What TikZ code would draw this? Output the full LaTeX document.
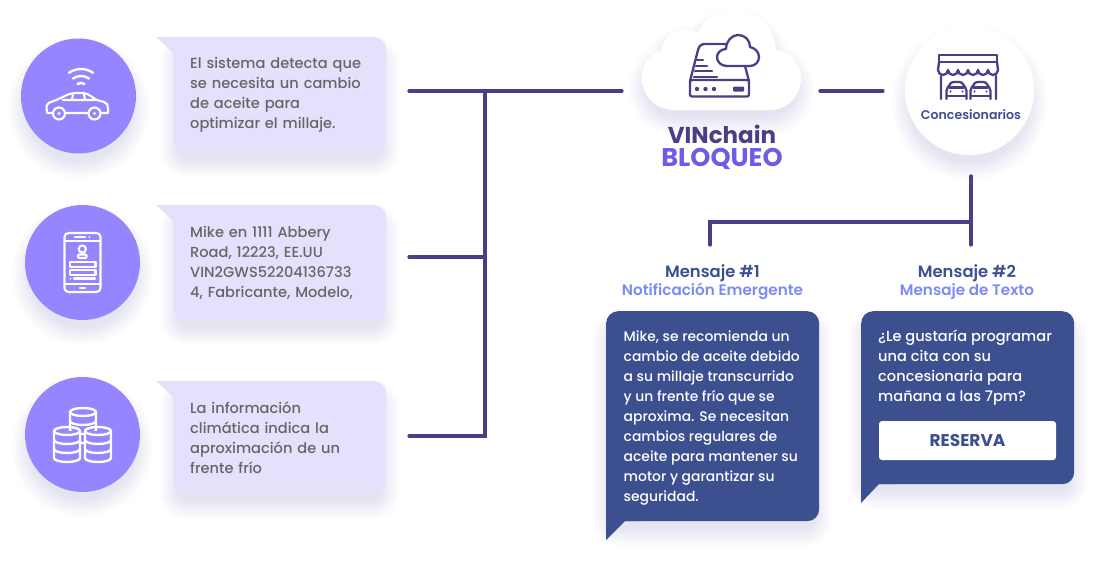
\documentclass[tikz,border=0pt]{standalone}
\usepackage{fontspec}
\setmainfont{Poppins}[UprightFont={* Medium}, BoldFont={* SemiBold}]
\newfontfamily\heavyfont{Poppins}[UprightFont={* Bold}]
\usetikzlibrary{positioning, calc}
\definecolor{vinPurple}{HTML}{9585FF}
\definecolor{vinLilac}{HTML}{E6E0FD}
\definecolor{vinNavy}{HTML}{3C4F8F}
\definecolor{vinInk}{HTML}{4A3F87}
\definecolor{vinViolet}{HTML}{6C5CE7}
\definecolor{vinSky}{HTML}{7C8CF0}
\definecolor{vinGrey}{HTML}{666666}
\newcommand{\softshade}[1]{\foreach \w in {3,6,...,39}{\begin{scope}[transparency group, opacity=.008, shift={(0,12)}]\filldraw[vinInk, line width=\w pt, line join=round] #1;\end{scope}}}
\tikzset{
	linkline/.style={line width=3.2pt, vinInk, line cap=round},
	whiteicon/.style={white, line width=2.1pt, line cap=round, line join=round},
	inkicon/.style={vinInk, line width=2.3pt, line cap=round, line join=round},
	bubblebase/.style={anchor=north west, inner xsep=17pt, inner ysep=0pt, text width=179pt, minimum width=213pt, rounded corners=12pt, align=left},
	lightbubble/.style={bubblebase, fill=vinLilac, text=vinGrey, font=\fontsize{14.6}{20}\selectfont},
	darkbubble/.style={bubblebase, fill=vinNavy},
	darktext/.style={anchor=north west, inner sep=0pt, align=left, text=white},
	iconcircle/.style={circle, fill=vinPurple, minimum size=115pt, inner sep=0pt},
	msgtitle/.style={text=vinNavy, inner sep=0pt, font=\fontsize{16.4}{18}\selectfont\bfseries},
	msgsub/.style={text=vinSky, inner sep=0pt, font=\fontsize{15.2}{16}\selectfont\bfseries}
}
\begin{document}
\begin{tikzpicture}[x=1pt, y=-1pt]
	\useasboundingbox (0,0) rectangle (1095,565);
	\fill[white] (0,0) rectangle (1095,565);

	% shadows
	\softshade{(78.5,96) circle (51.5)}
	\softshade{(82.5,262.5) circle (51.5)}
	\softshade{(82.5,434.5) circle (51.5)}
	\softshade{(969.5,90.5) circle (58.5)}
	\softshade{[rounded corners=8pt] (179,43) rectangle (380,146)}
	\softshade{[rounded corners=8pt] (179,211) rectangle (380,314)}
	\softshade{[rounded corners=8pt] (179,387) rectangle (380,488)}
	\softshade{[rounded corners=8pt] (612,317) rectangle (813,515)}
	\softshade{[rounded corners=8pt] (867,317) rectangle (1068,478)}

	% left column
	\node [iconcircle] (circleCar) at (78.5,96) {};
	\node [iconcircle] (circlePhone) at (82.5,262.5) {};
	\node [iconcircle] (circleCoins) at (82.5,434.5) {};

	\node [lightbubble, minimum height=115pt] (bubbleCar) at (173,37) {El sistema detecta que\\se necesita un cambio\\de aceite para\\optimizar el millaje.};
	\node [lightbubble, minimum height=115pt] (bubblePhone) at (173,205) {Mike en 1111 Abbery\\Road, 12223, EE.UU\\VIN2GWS52204136733\\4, Fabricante, Modelo,};
	\node [lightbubble, minimum height=113pt] (bubbleCoins) at (173,381) {La información\\climática indica la\\aproximación de un\\frente frío};
	\fill[vinLilac] (156,37) -- (190,37) -- (190,56) -- (173,56) -- (173,53) -- cycle;
	\fill[vinLilac] (156,205) -- (190,205) -- (190,224) -- (173,224) -- (173,221) -- cycle;
	\fill[vinLilac] (156,381) -- (190,381) -- (190,400) -- (173,400) -- (173,397) -- cycle;

	% car
	\draw[whiteicon] (52.5,113) -- (47,113) -- (46.5,107) .. controls (47,103) and (50,102) .. (54,101) -- (63,97) .. controls (68,94) and (72,93) .. (77,93) -- (84,93) .. controls (89,94) and (93,98) .. (97,100) -- (104,102) .. controls (107,103) and (108,105) .. (108,108) -- (108,113) -- (101,113);
	\draw[whiteicon] (65.5,113) -- (88,113) (63,100) -- (96,100) (73,94) -- (72,100) (84,94) -- (85,100);
	\draw[whiteicon] (59,113.5) circle (6) (94.5,113.5) circle (6);
	\fill[white] (59,113.5) circle (1.6) (94.5,113.5) circle (1.6);
	\draw[whiteicon, line width=2.4pt] (81,90) ++(235:21) arc [start angle=235, end angle=305, radius=21];
	\draw[whiteicon, line width=2.4pt] (81,90) ++(235:14) arc [start angle=235, end angle=305, radius=14];
	\draw[whiteicon, line width=2.4pt] (81,90) ++(240:7) arc [start angle=240, end angle=300, radius=7];

	% phone
	\draw[whiteicon, rounded corners=4pt] (64.5,233) rectangle (100.5,292);
	\draw[whiteicon] (64.5,241) -- (100.5,241) (64.5,284) -- (100.5,284) (75,237) -- (85,237) (80,288) -- (85,288);
	\fill[white] (89.5,237) circle (1);
	\draw[whiteicon] (82.3,249) circle (3.6);
	\draw[whiteicon, rounded corners=1pt] (78,258) -- (78,254.5) -- (86.6,254.5) -- (86.6,258) -- cycle;
	\draw[whiteicon] (70,262) rectangle (95.5,267) (70,270) rectangle (95.5,275);
	\draw[whiteicon] (74,278.5) -- (95,278.5);
	\fill[white] (70.5,278.5) circle (1);

	% coins
	\foreach \cx/\cy/\rows in {83/412/3, 67/431/3, 98/431/3}{
		\fill[vinPurple] (\cx-13,\cy) -- (\cx-13,{\cy+9*\rows}) arc [start angle=180, end angle=0, x radius=13, y radius=4] -- (\cx+13,\cy) -- cycle;
		\draw[whiteicon, line width=2.4pt] (\cx,\cy) ellipse [x radius=13, y radius=4];
		\draw[whiteicon, line width=2.4pt] (\cx-13,\cy) -- (\cx-13,{\cy+9*\rows}) arc [start angle=180, end angle=0, x radius=13, y radius=4] -- (\cx+13,\cy);
		\foreach \band in {1,2}
			\draw[whiteicon, line width=2.4pt] (\cx-13,{\cy+9*\band}) arc [start angle=180, end angle=0, x radius=13, y radius=4];
	}

	% cloud
	\softshade{[shift={(721,60)}, xscale=.925, yscale=.88, shift={(-721,-60)}] (674,110) .. controls (656,110) and (642,96) .. (642,78)
		.. controls (642,64) and (650,54) .. (662,50)
		.. controls (663,38) and (672,30) .. (683,30)
		.. controls (689,30) and (694,31) .. (698,33)
		.. controls (705,18) and (719,10) .. (735,10)
		.. controls (757,10) and (774,27) .. (776,50)
		.. controls (790,53) and (801,64) .. (801,78)
		.. controls (801,96) and (788,110) .. (770,110) -- cycle}
	\fill[white] (674,110) .. controls (656,110) and (642,96) .. (642,78)
		.. controls (642,64) and (650,54) .. (662,50)
		.. controls (663,38) and (672,30) .. (683,30)
		.. controls (689,30) and (694,31) .. (698,33)
		.. controls (705,18) and (719,10) .. (735,10)
		.. controls (757,10) and (774,27) .. (776,50)
		.. controls (790,53) and (801,64) .. (801,78)
		.. controls (801,96) and (788,110) .. (770,110) -- cycle;
	\draw[inkicon] (690,81) -- (698,50) .. controls (699,46) and (701,44) .. (705,44) -- (728,44);
	\draw[inkicon] (745,66) -- (749,81);
	\draw[inkicon, rounded corners=2pt] (690,80) rectangle (749,96.5);
	\draw[inkicon] (697,60) -- (703,60) (696,65.7) -- (707,65.7) (695,71) -- (712,71) (694,76.7) -- (717,76.7);
	\fill[vinInk] (697,89) circle (2.2) (705.5,89) circle (2.2) (714,89) circle (2.2);
	\fill[vinInk, rounded corners=1pt] (733,86.5) rectangle (744,91.5);
	\filldraw[inkicon, fill=white] (727,66) .. controls (721,66) and (717,62) .. (717,57) .. controls (717,53) and (721,49) .. (726,49) .. controls (726,41) and (732,35) .. (738,35) .. controls (745,35) and (750,40) .. (750,47) .. controls (755,48) and (759,52) .. (759,57) .. controls (759,62) and (755,66) .. (750,66) -- cycle;
	\node [text=vinInk, inner sep=0pt, font=\heavyfont\fontsize{23}{24}\selectfont] (vinLabel) at (722,134) {VINchain};
	\node [text=vinViolet, inner sep=0pt, font=\heavyfont\fontsize{25.6}{26}\selectfont] (lockLabel) at (722,159) {BLOQUEO};

	% dealers
	\node [circle, fill=white, minimum size=129pt, inner sep=0pt] (circleDealer) at (969.5,90.5) {};
	\draw[inkicon] (939,62) -- (939,55) -- (997,55) -- (997,62) -- cycle;
	\draw[inkicon] (939,62) -- (938,70) (997,62) -- (998,70) (941,76) -- (941,99) (996,76) -- (996,99);
	\foreach \i in {0,...,5}
		\draw[inkicon] (938+10*\i,70) arc [start angle=180, end angle=0, radius=5];
	\foreach \cx in {956.5,980.5}{
		\draw[inkicon] (\cx-10,99) -- (\cx-10,91) .. controls (\cx-10,88) and (\cx-8,87) .. (\cx-7,85) .. controls (\cx-6,83) and (\cx-5,82) .. (\cx-3,82) -- (\cx+3,82) .. controls (\cx+5,82) and (\cx+6,83) .. (\cx+7,85) .. controls (\cx+8,87) and (\cx+10,88) .. (\cx+10,91) -- (\cx+10,99);
		\draw[inkicon] (\cx-10,96) -- (\cx+10,96) (\cx-7,87.5) -- (\cx+7,87.5);
		\fill[vinInk] (\cx-6,91.5) circle (1.2) (\cx+6,91.5) circle (1.2);
	}
	\node [text=vinNavy, font=\fontsize{12.6}{14}\selectfont\bfseries] (dealerLabel) at (971,115) {Concesionarios};

	% messages
	\node [msgtitle] (titleA) at (712.5,273) {Mensaje \#1};
	\node [msgsub] (subA) at (712.5,291.5) {Notificación Emergente};
	\node [msgtitle] (titleB) at (967,273) {Mensaje \#2};
	\node [msgsub] (subB) at (967,291.5) {Mensaje de Texto};

	\node [darkbubble, minimum height=210pt] (bubbleMsgA) at (606,311) {};
	\node [darkbubble, minimum height=173pt] (bubbleMsgB) at (861,311) {};
	\fill[vinNavy] (606,540) -- (606,500) -- (640,500) -- (640,521) -- (625,521) -- cycle;
	\fill[vinNavy] (861,503) -- (861,463) -- (895,463) -- (895,484) -- (879,484) -- cycle;
	\node [darktext, font=\fontsize{13.9}{20}\selectfont] (textMsgA) at (623.5,331) {Mike, se recomienda un\\cambio de aceite debido\\a su millaje transcurrido\\y un frente frío que se\\aproxima. Se necesitan\\cambios regulares de\\aceite para mantener su\\motor y garantizar su\\seguridad.};
	\node [darktext, font=\fontsize{14.6}{20}\selectfont] (textMsgB) at (878,330) {¿Le gustaría programar\\una cita con su\\concesionaria para\\mañana a las 7pm?};
	\node [fill=white, rounded corners=3pt, minimum width=177pt, minimum height=39pt, inner sep=0pt, text=vinNavy, font=\heavyfont\fontsize{17}{18}\selectfont] (btnReserve) at (967.5,440.5) {RESERVA};

	% connectors
	\coordinate (startCar) at (409,91);
	\coordinate (startPhone) at (409,257);
	\coordinate (startCoins) at (409,436);
	\coordinate (busTop) at (485,91);
	\coordinate (busMid) at (485,257);
	\coordinate (busLow) at (485,436);
	\coordinate (cloudIn) at (622,91);
	\coordinate (cloudOut) at (820,91);
	\coordinate (dealerIn) at (883,91);
	\coordinate (dealerOut) at (971,176);
	\coordinate (dealerFork) at (971,222);
	\coordinate (forkLeft) at (710,222);
	\coordinate (dropA) at (710,245);
	\coordinate (dropB) at (971,245);
	\draw[linkline] (startCar) -- (busTop) -- (cloudIn);
	\draw[linkline] (startPhone) -- (busMid);
	\draw[linkline] (startCoins) -- (busLow) -- (busTop);
	\draw[linkline] (cloudOut) -- (dealerIn);
	\draw[linkline] (dealerOut) -- (dropB);
	\draw[linkline] (dealerFork) -- (forkLeft) -- (dropA);
\end{tikzpicture}
\end{document}
